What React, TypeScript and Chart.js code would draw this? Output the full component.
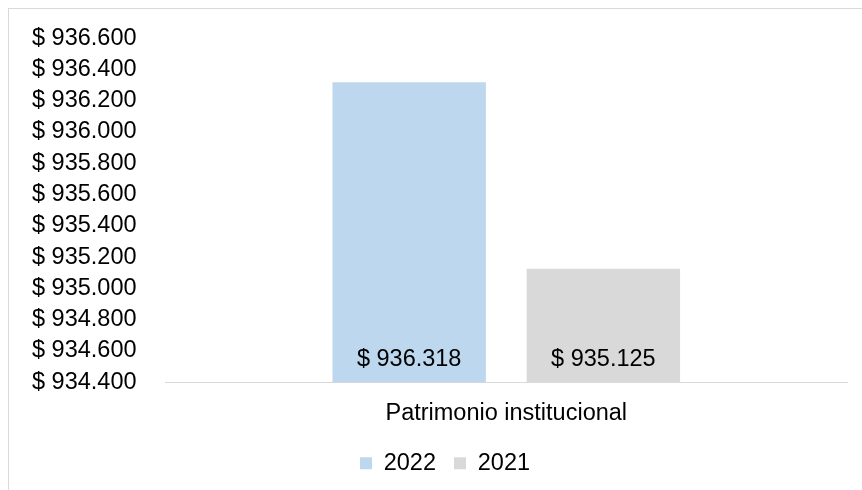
import React, { useEffect, useRef } from "react";
import { Chart, registerables } from "chart.js";

Chart.register(...registerables);

const categories = ["Patrimonio institucional"];
const seriesNames = ["2022", "2021"];
const values2022 = [936318];
const values2021 = [935125];
const yMin = 934400;
const yMax = 936600;
const yStep = 200;

const FONT = "'Liberation Sans', Arial, sans-serif";
const FS = 23.5;

function fmt(v: number): string {
  const s = Math.round(v).toString();
  return "$ " + s.replace(/\B(?=(\d{3})+(?!\d))/g, ".");
}

const barLabels = {
  id: "barLabels",
  afterDatasetsDraw(chart: any) {
    const ctx = chart.ctx;
    const yScale = chart.scales.y;
    ctx.save();
    ctx.font = `${FS}px ${FONT}`;
    ctx.fillStyle = "#000";
    ctx.textAlign = "center";
    ctx.textBaseline = "middle";
    chart.data.datasets.forEach((ds: any, i: number) => {
      const meta = chart.getDatasetMeta(i);
      meta.data.forEach((bar: any, j: number) => {
        ctx.fillText(fmt(ds.data[j]), bar.x, yScale.bottom - 23);
      });
    });
    ctx.restore();
  },
};

// centre the legend on the full (wider, cropped) chart frame
const legendShift = {
  id: "legendShift",
  afterLayout(chart: any) {
    const lg = chart.legend;
    if (lg) {
      lg.left += 20;
      lg.right += 20;
    }
  },
};

export default function App() {
  const ref = useRef<HTMLCanvasElement>(null);
  useEffect(() => {
    if (!ref.current) return;
    const chart = new Chart(ref.current, {
      type: "bar",
      data: {
        labels: categories,
        datasets: [
          { label: seriesNames[0], data: values2022, backgroundColor: "#bdd7ee" },
          { label: seriesNames[1], data: values2021, backgroundColor: "#d9d9d9" },
        ],
      },
      options: {
        responsive: false,
        animation: false,
        categoryPercentage: 0.57,
        barPercentage: 0.79,
        layout: { padding: { left: -6, right: 32, top: 0, bottom: 8 } },
        scales: {
          x: {
            grid: { display: false, drawTicks: false },
            border: { display: true, color: "#d9d9d9", width: 1 },
            ticks: { color: "#000", font: { family: FONT, size: FS }, padding: 17 },
            afterFit(scale: any) {
              scale.height -= 11;
            },
          },
          y: {
            min: yMin,
            max: yMax,
            grid: { display: false, drawTicks: false },
            border: { display: false },
            ticks: {
              stepSize: yStep,
              autoSkip: false,
              color: "#000",
              padding: 29,
              font: { family: FONT, size: FS },
              callback: (v: any) => fmt(Number(v)),
            },
          },
        },
        plugins: {
          legend: {
            position: "bottom",
            labels: {
              boxWidth: 12,
              boxHeight: 12,
              padding: 18,
              color: "#000",
              font: { family: FONT, size: FS },
            },
          },
          tooltip: { enabled: false },
        },
      },
      plugins: [barLabels, legendShift],
    });
    return () => chart.destroy();
  }, []);

  return (
    <div style={{ position: "fixed", left: 8, top: 8, right: 0, bottom: 0, overflow: "hidden" }}>
      <div style={{ width: 870, height: 498, border: "1px solid #d9d9d9", background: "#fff" }}>
        <canvas
          ref={ref}
          width={870}
          height={498}
          style={{ display: "block", position: "relative", top: -14 }}
        />
      </div>
    </div>
  );
}
